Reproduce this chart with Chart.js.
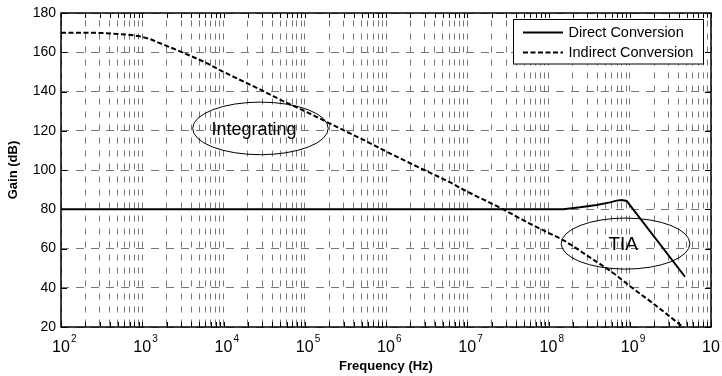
<!DOCTYPE html>
<html><head><meta charset="utf-8">
<script src="https://cdn.jsdelivr.net/npm/chart.js@4.4.0/dist/chart.umd.min.js"></script>
<style>html,body{margin:0;padding:0;background:#fff;}</style>
</head><body>
<canvas id="c" width="722" height="376"></canvas>
<script>
// ---- data ----
const xExponents = [2, 3, 4, 5, 6, 7, 8, 9, 10];          // decade tick labels 10^n
const yTicks = [20, 40, 60, 80, 100, 120, 140, 160, 180];
const seriesNames = ['Direct Conversion', 'Indirect Conversion'];
const directLogF = [2, 8.0, 8.182, 8.388, 8.593, 8.757, 8.839, 8.90, 8.962, 9.68];
const directGain = [80, 80, 80.0, 81.0, 82.2, 83.5, 84.4, 84.7, 84.2, 45.6];
const indirectLogF = [2, 2.3, 2.5, 2.7, 2.85, 2.97, 3.1, 3.22, 3.35, 3.5, 3.75, 4.0, 4.25, 4.5, 4.75, 5.0, 5.27, 5.5, 5.75, 6.0, 6.42, 6.75, 7.0, 7.44, 7.75, 8.0, 8.18, 8.5, 8.8, 9.0, 9.3, 9.655];
const indirectGain = [170, 170, 169.8, 169.3, 168.8, 168.1, 166.6, 164.6, 162.4, 159.8, 155.3, 150, 145, 140, 134.8, 130, 124.5, 119.8, 114.8, 109.5, 101, 94.5, 89, 80, 73.1, 68, 64.3, 55.7, 47.4, 40.9, 31.6, 20];
const xTitle = 'Frequency (Hz)';
const yTitle = 'Gain (dB)';
const noteTexts = ['Integrating', 'TIA'];
// annotation placement (data coordinates: log10 f, dB)
const notePlacement = [
  {cLogF: 4.455, cGain: 121.2, rDec: 0.834, rDb: 13.4, tLogF: 4.375, tGain: 117.8, size: 18},
  {cLogF: 8.948, cGain: 62.5, rDec: 0.792, rDb: 13.0, tLogF: 8.92, tGain: 59.2, size: 19}
];

const toPts = (lf, g) => lf.map((e, i) => ({x: Math.pow(10, e), y: g[i]}));
const FONT = '"Liberation Sans", Arial, sans-serif';

const decor = {
  id: 'decor',
  afterDatasetsDraw(chart) {
    const {ctx, chartArea: a, scales: {x, y}} = chart;
    ctx.save();
    // tick marks inside the box
    ctx.strokeStyle = '#000'; ctx.lineWidth = 1;
    ctx.beginPath();
    x.ticks.forEach(t => {
      const px = Math.round(x.getPixelForValue(t.value)) + 0.5;
      ctx.moveTo(px, a.bottom); ctx.lineTo(px, a.bottom - 5);
      ctx.moveTo(px, a.top); ctx.lineTo(px, a.top + 5);
    });
    y.ticks.forEach(t => {
      const py = Math.round(y.getPixelForValue(t.value)) + 0.5;
      ctx.moveTo(a.left, py); ctx.lineTo(a.left + 6, py);
      ctx.moveTo(a.right, py); ctx.lineTo(a.right - 6, py);
    });
    ctx.stroke();
    // annotations (ellipses + text)
    ctx.lineWidth = 1; ctx.strokeStyle = '#000'; ctx.fillStyle = '#000';
    notePlacement.forEach((n, i) => {
      const cx = x.getPixelForValue(Math.pow(10, n.cLogF));
      const cy = y.getPixelForValue(n.cGain);
      const rx = x.getPixelForValue(Math.pow(10, n.cLogF + n.rDec)) - cx;
      const ry = cy - y.getPixelForValue(n.cGain + n.rDb);
      ctx.beginPath(); ctx.ellipse(cx, cy, rx, ry, 0, 0, Math.PI * 2); ctx.stroke();
      ctx.font = n.size + 'px ' + FONT;
      ctx.textAlign = 'center'; ctx.textBaseline = 'alphabetic';
      ctx.fillText(noteTexts[i], x.getPixelForValue(Math.pow(10, n.tLogF)), y.getPixelForValue(n.tGain));
    });
    // box
    ctx.lineWidth = 1.5; ctx.strokeStyle = '#000';
    ctx.strokeRect(a.left, a.top, a.right - a.left, a.bottom - a.top);
    // y tick labels
    ctx.fillStyle = '#000';
    ctx.font = '14px ' + FONT; ctx.textAlign = 'right'; ctx.textBaseline = 'middle';
    yTicks.forEach(v => ctx.fillText(String(v), a.left - 5, y.getPixelForValue(v)));
    // x tick labels 10^n
    xExponents.forEach(e => {
      const px = x.getPixelForValue(Math.pow(10, e));
      ctx.font = '16px ' + FONT; ctx.textAlign = 'center'; ctx.textBaseline = 'alphabetic';
      ctx.fillText('10', px, a.bottom + 25);
      const w = ctx.measureText('10').width;
      ctx.font = '10px ' + FONT; ctx.textAlign = 'left';
      ctx.fillText(String(e), px + w / 2 + 1, a.bottom + 15);
    });
    // axis titles
    ctx.font = 'bold 13px ' + FONT; ctx.textAlign = 'center'; ctx.textBaseline = 'middle';
    ctx.fillText(xTitle, (a.left + a.right) / 2, a.bottom + 39);
    ctx.save();
    ctx.translate(13, (a.top + a.bottom) / 2);
    ctx.rotate(-Math.PI / 2);
    ctx.fillText(yTitle, 0, 0);
    ctx.restore();
    // legend
    const lx = a.right - 197.5, ly = a.top + 6.5, lw = 190, lh = 44.5;
    ctx.fillStyle = '#fff'; ctx.fillRect(lx, ly, lw, lh);
    ctx.lineWidth = 1; ctx.strokeStyle = '#000'; ctx.strokeRect(lx, ly, lw, lh);
    chart.data.datasets.forEach((ds, i) => {
      const yy = ly + 13 + i * 20;
      ctx.beginPath(); ctx.lineWidth = ds.borderWidth; ctx.setLineDash(ds.borderDash || []);
      ctx.moveTo(lx + 9.5, yy); ctx.lineTo(lx + 49.5, yy); ctx.stroke();
      ctx.setLineDash([]);
      ctx.fillStyle = '#000'; ctx.font = '14.5px ' + FONT; ctx.textAlign = 'left'; ctx.textBaseline = 'middle';
      ctx.fillText(ds.label, lx + 55, yy + 0.5);
    });
    ctx.restore();
  }
};

new Chart(document.getElementById('c'), {
  type: 'line',
  data: {
    datasets: [
      {label: seriesNames[0], data: toPts(directLogF, directGain), borderColor: '#000', borderWidth: 2, pointRadius: 0, tension: 0, fill: false},
      {label: seriesNames[1], data: toPts(indirectLogF, indirectGain), borderColor: '#000', borderWidth: 2, borderDash: [5, 2.5], pointRadius: 0, cubicInterpolationMode: 'monotone', fill: false}
    ]
  },
  options: {
    responsive: false, animation: false, devicePixelRatio: 1,
    layout: {padding: {left: 61, top: 13, right: 11, bottom: 49}},
    plugins: {legend: {display: false}, tooltip: {enabled: false}},
    scales: {
      x: {
        type: 'logarithmic', min: 1e2, max: 1e10,
        afterBuildTicks: s => {
          const t = [];
          for (let i = 0; i < xExponents.length - 1; i++)
            for (let m = 1; m <= 9; m++) t.push({value: m * Math.pow(10, xExponents[i])});
          t.push({value: Math.pow(10, xExponents[xExponents.length - 1])});
          s.ticks = t;
        },
        ticks: {display: false, autoSkip: false},
        grid: {color: '#777', lineWidth: 1, drawTicks: false},
        border: {display: false, dash: [6, 7], dashOffset: 5.5}
      },
      y: {
        min: 20, max: 180,
        afterBuildTicks: s => { s.ticks = yTicks.map(v => ({value: v})); },
        ticks: {display: false},
        grid: {color: '#777', lineWidth: 1, drawTicks: false},
        border: {display: false, dash: [8, 7]}
      }
    }
  },
  plugins: [decor]
});
</script>
</body></html>
